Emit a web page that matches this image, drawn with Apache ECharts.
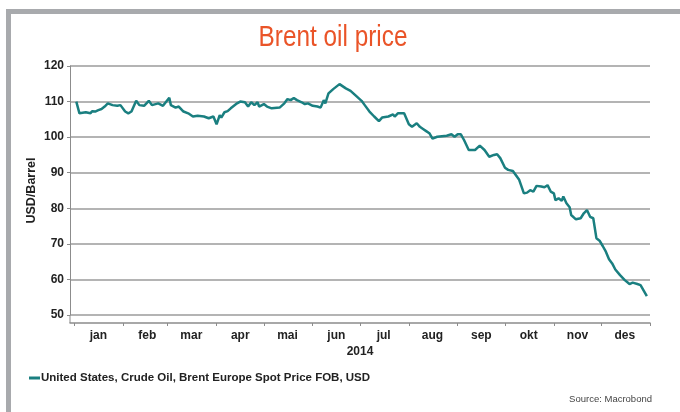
<!DOCTYPE html>
<html>
<head>
<meta charset="utf-8">
<script src="https://cdn.jsdelivr.net/npm/echarts@6/dist/echarts.min.js"></script>
<style>
  html, body { margin: 0; padding: 0; background: #fff; }
  #chart { width: 680px; height: 412px; }
</style>
</head>
<body>
<div id="chart"></div>
<script>
// Brent spot price 2014
const dates = [
  '2014-01-02','2014-01-04','2014-01-08','2014-01-11','2014-01-12','2014-01-14','2014-01-16','2014-01-18','2014-01-20','2014-01-22',
  '2014-01-23','2014-01-25','2014-01-28','2014-01-30','2014-02-02','2014-02-04','2014-02-06','2014-02-09','2014-02-11','2014-02-14',
  '2014-02-17','2014-02-19','2014-02-23','2014-02-26','2014-03-02','2014-03-03','2014-03-06','2014-03-08','2014-03-11','2014-03-14',
  '2014-03-17','2014-03-20','2014-03-24','2014-03-27','2014-03-30','2014-04-01','2014-04-03','2014-04-04','2014-04-06','2014-04-08',
  '2014-04-10','2014-04-14','2014-04-16','2014-04-19','2014-04-21','2014-04-23','2014-04-25','2014-04-27','2014-04-28','2014-05-01',
  '2014-05-03','2014-05-06','2014-05-11','2014-05-14','2014-05-16','2014-05-18','2014-05-20','2014-05-22','2014-05-25','2014-05-27',
  '2014-05-29','2014-06-01','2014-06-04','2014-06-06','2014-06-08','2014-06-09','2014-06-11','2014-06-14','2014-06-18','2014-06-22',
  '2014-06-25','2014-06-28','2014-07-02','2014-07-04','2014-07-07','2014-07-10','2014-07-13','2014-07-15','2014-07-19','2014-07-22',
  '2014-07-23','2014-07-25','2014-07-29','2014-08-01','2014-08-03','2014-08-06','2014-08-08','2014-08-10','2014-08-12','2014-08-14',
  '2014-08-16','2014-08-19','2014-08-25','2014-08-28','2014-08-30','2014-09-01','2014-09-03','2014-09-05','2014-09-08','2014-09-12',
  '2014-09-15','2014-09-18','2014-09-21','2014-09-24','2014-09-26','2014-09-28','2014-10-01','2014-10-03','2014-10-06','2014-10-07',
  '2014-10-10','2014-10-13','2014-10-15','2014-10-17','2014-10-19','2014-10-21','2014-10-24','2014-10-26','2014-10-28','2014-10-30',
  '2014-11-01','2014-11-02','2014-11-04','2014-11-06','2014-11-07','2014-11-09','2014-11-11','2014-11-12','2014-11-15','2014-11-18',
  '2014-11-20','2014-11-22','2014-11-24','2014-11-26','2014-11-28','2014-11-30','2014-12-02','2014-12-04','2014-12-06','2014-12-08',
  '2014-12-10','2014-12-13','2014-12-16','2014-12-19','2014-12-21','2014-12-24','2014-12-26','2014-12-30'
];
const prices = [
  110.0,106.7,107.0,106.7,107.3,107.2,107.6,107.9,108.6,109.5,
  109.8,109.0,108.8,109.0,107.2,106.7,107.2,110.2,109.0,108.8,
  110.2,109.0,109.5,108.8,111.1,109.0,108.3,108.6,107.2,106.7,
  105.8,106.0,105.8,105.3,105.8,103.6,106.2,105.5,107.0,107.3,
  108.1,109.5,110.0,109.8,108.6,109.8,109.0,109.8,108.6,109.3,
  108.6,108.1,108.3,109.5,110.7,110.4,111.0,110.4,109.8,109.3,
  109.5,108.8,108.6,108.3,110.4,109.5,112.3,113.5,114.9,113.7,
  113.0,111.8,110.2,109.0,107.2,105.8,104.5,105.5,105.8,106.4,
  105.8,106.7,106.7,103.6,102.9,103.9,102.9,102.3,101.7,101.1,
  99.6,100.1,100.4,100.8,100.1,100.8,100.8,99.2,96.4,96.4,
  97.6,96.4,94.5,95.0,95.2,94.1,91.4,90.8,90.5,90.3,
  88.0,84.2,84.4,85.1,84.7,86.3,86.1,85.9,86.5,84.7,
  84.2,82.3,82.8,82.1,83.3,81.4,80.3,78.1,76.9,77.2,
  78.6,79.5,77.6,77.2,71.6,70.9,69.4,67.8,65.7,64.5,
  62.8,61.2,59.8,58.7,59.1,58.7,58.4,55.3
];
const months = ['jan','feb','mar','apr','mai','jun','jul','aug','sep','okt','nov','des'];
const yearLabel = '2014';
const seriesName = 'United States, Crude Oil, Brent Europe Spot Price FOB, USD';

// dates -> ms, x axis is a plain value axis in ms
function toMs(s) {
  const p = s.split('-');
  return new Date(+p[0], +p[1] - 1, +p[2]).getTime();
}
const monthStarts = [];
const monthMids = [];
for (let m = 0; m <= 12; m++) {
  monthStarts.push(new Date(2014, m, 1).getTime());
  if (m < 12) monthMids.push(new Date(2014, m, 16).getTime());
}

const boldFont = "'Liberation Sans', Arial, sans-serif";
const axisGray = '#8c8c8c';

const myChart = echarts.init(document.getElementById('chart'));
const option = {
  animation: false,
  title: {
    text: 'Source: Macrobond',
    right: 23,
    top: 389,
    textStyle: { color: '#444', fontSize: 9.5, fontWeight: 'normal', fontFamily: boldFont }
  },
  legend: {
    left: 24,
    top: 367,
    icon: 'rect',
    itemWidth: 11,
    itemHeight: 3,
    textStyle: { color: '#222', fontSize: 11.5, fontWeight: 'bold', fontFamily: boldFont, padding: [0, 0, 0, -4] },
    data: [seriesName]
  },
  grid: { left: 70, right: 30, top: 66, bottom: 97 },
  xAxis: {
    type: 'value',
    min: new Date(2013, 11, 29).getTime(),
    max: new Date(2015, 0, 1).getTime(),
    offset: 8,
    name: yearLabel,
    nameLocation: 'middle',
    nameGap: 23,
    nameMoveOverlap: false,
    nameTextStyle: { color: '#222', fontSize: 12, fontWeight: 'bold', fontFamily: boldFont },
    axisLine: { show: true, lineStyle: { color: axisGray, width: 1.5 } },
    axisTick: { show: true, length: 3, customValues: monthStarts, lineStyle: { color: axisGray } },
    axisLabel: {
      customValues: monthMids,
      margin: 7,
      color: '#222',
      fontSize: 12,
      fontWeight: 'bold',
      fontFamily: boldFont,
      formatter: function (val) { return months[new Date(val).getMonth()]; }
    },
    splitLine: { show: false }
  },
  yAxis: {
    type: 'value',
    min: 50,
    max: 120,
    interval: 10,
    name: 'USD/Barrel',
    nameLocation: 'middle',
    nameGap: 32,
    nameMoveOverlap: false,
    nameTextStyle: { color: '#222', fontSize: 12.5, fontWeight: 'bold', fontFamily: boldFont },
    axisLine: { show: true, lineStyle: { color: axisGray, width: 1 } },
    axisTick: { show: true, length: 3, lineStyle: { color: axisGray } },
    axisLabel: { margin: 6, color: '#222', fontSize: 12, fontWeight: 'bold', fontFamily: boldFont },
    splitLine: { show: true, lineStyle: { color: '#9b9b9b', width: 1.5 } }
  },
  graphic: [
    // frame
    { type: 'rect', left: 6, top: 9, shape: { width: 674, height: 5 }, style: { fill: '#a8aaad' } },
    { type: 'rect', left: 6, top: 9, shape: { width: 5, height: 403 }, style: { fill: '#a8aaad' } },
    // y axis continues down to the offset x axis
    { type: 'line', shape: { x1: 70, y1: 315, x2: 70, y2: 323 }, style: { stroke: axisGray, lineWidth: 1 } },
    // narrow title
    {
      type: 'text',
      x: 333,
      y: 38,
      scaleX: 0.84,
      style: {
        text: 'Brent oil price',
        x: 0,
        y: 0,
        align: 'center',
        verticalAlign: 'middle',
        fill: '#ea5428',
        font: "29px 'Liberation Sans', Arial, sans-serif"
      }
    }
  ],
  series: [
    {
      name: seriesName,
      type: 'line',
      showSymbol: false,
      symbol: 'none',
      lineStyle: { color: '#1a7f80', width: 2.5 },
      itemStyle: { color: '#1a7f80' },
      data: dates.map((d, i) => [toMs(d), prices[i]])
    }
  ]
};
myChart.setOption(option);
</script>
</body>
</html>
